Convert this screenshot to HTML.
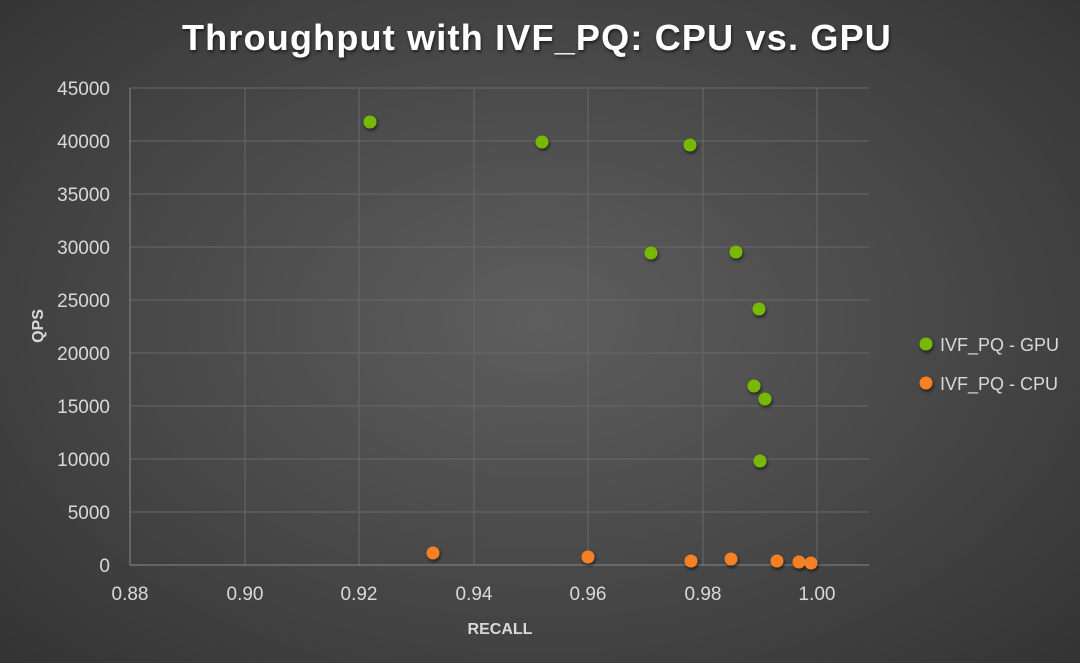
<!DOCTYPE html><html><head><style>
body{margin:0;width:1080px;height:663px;overflow:hidden;background:radial-gradient(ellipse 75% 80% at 50% 48%,#5e5e5e 0%,#4a4a4a 45%,#303030 100%);font-family:"Liberation Sans",sans-serif}
</style></head><body>
<svg width="1080" height="663" style="position:absolute;left:0;top:0">
<defs><filter id="sh" x="-50%" y="-50%" width="200%" height="200%"><feDropShadow dx="1" dy="2" stdDeviation="1.5" flood-color="#000" flood-opacity="0.6"/></filter></defs>
<text x="537" y="50" text-anchor="middle" font-size="36" font-weight="bold" fill="#fff" filter="url(#sh)" letter-spacing="1.2">Throughput with IVF_PQ: CPU vs. GPU</text>
<g stroke="#686868" stroke-width="1">
<line x1="130" y1="88" x2="869" y2="88"/><line x1="130" y1="141" x2="869" y2="141"/><line x1="130" y1="194" x2="869" y2="194"/><line x1="130" y1="247" x2="869" y2="247"/><line x1="130" y1="300" x2="869" y2="300"/><line x1="130" y1="353" x2="869" y2="353"/><line x1="130" y1="406" x2="869" y2="406"/><line x1="130" y1="459" x2="869" y2="459"/><line x1="130" y1="512" x2="869" y2="512"/>
<line x1="245" y1="88" x2="245" y2="565"/><line x1="359" y1="88" x2="359" y2="565"/><line x1="474" y1="88" x2="474" y2="565"/><line x1="588" y1="88" x2="588" y2="565"/><line x1="703" y1="88" x2="703" y2="565"/><line x1="817" y1="88" x2="817" y2="565"/>
</g>
<line x1="130" y1="88" x2="130" y2="565" stroke="#888"/><line x1="130" y1="565" x2="869" y2="565" stroke="#888"/>
<g fill="#d9d9d9" font-size="19" text-anchor="end">
<text x="110" y="95">45000</text><text x="110" y="148">40000</text><text x="110" y="201">35000</text><text x="110" y="254">30000</text><text x="110" y="307">25000</text><text x="110" y="360">20000</text><text x="110" y="413">15000</text><text x="110" y="466">10000</text><text x="110" y="519">5000</text><text x="110" y="572">0</text>
</g>
<g fill="#d9d9d9" font-size="19" text-anchor="middle">
<text x="130" y="600">0.88</text><text x="245" y="600">0.90</text><text x="359" y="600">0.92</text><text x="474" y="600">0.94</text><text x="588" y="600">0.96</text><text x="703" y="600">0.98</text><text x="817" y="600">1.00</text>
</g>
<text x="500" y="634" text-anchor="middle" font-size="16" font-weight="bold" fill="#d9d9d9">RECALL</text>
<text transform="translate(43,326) rotate(-90)" text-anchor="middle" font-size="16" font-weight="bold" fill="#d9d9d9">QPS</text>
<g fill="#76b900" filter="url(#sh)">
<circle cx="370" cy="122" r="6.5"/><circle cx="542" cy="142" r="6.5"/><circle cx="690" cy="145" r="6.5"/><circle cx="651" cy="253" r="6.5"/><circle cx="736" cy="252" r="6.5"/><circle cx="759" cy="309" r="6.5"/><circle cx="754" cy="386" r="6.5"/><circle cx="765" cy="399" r="6.5"/><circle cx="760" cy="461" r="6.5"/>
<circle cx="926" cy="344" r="6.5"/>
</g>
<g fill="#f58025" filter="url(#sh)">
<circle cx="433" cy="553" r="6.5"/><circle cx="588" cy="557" r="6.5"/><circle cx="691" cy="561" r="6.5"/><circle cx="731" cy="559" r="6.5"/><circle cx="777" cy="561" r="6.5"/><circle cx="799" cy="562" r="6.5"/><circle cx="811" cy="563" r="6.5"/>
<circle cx="926" cy="383" r="6.5"/>
</g>
<text x="940" y="351" font-size="18" fill="#d9d9d9">IVF_PQ - GPU</text>
<text x="940" y="390" font-size="18" fill="#d9d9d9">IVF_PQ - CPU</text>
</svg>
</body></html>
